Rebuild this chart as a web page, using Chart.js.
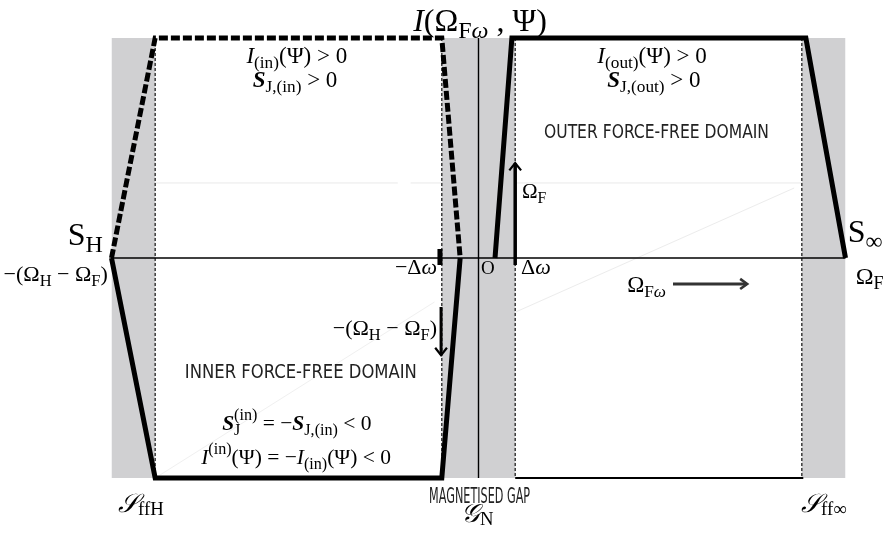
<!DOCTYPE html>
<html>
<head>
<meta charset="utf-8">
<script src="https://cdn.jsdelivr.net/npm/chart.js@4.4.1/dist/chart.umd.min.js"></script>
<style>
html,body{margin:0;padding:0;background:#fff;}
#wrap{width:894px;height:533px;position:relative;}
</style>
</head>
<body>
<div id="wrap"><canvas id="c" width="894" height="533"></canvas></div>
<script>
// ---- diagram data (Ω axis: x, current I: y) ----
const grayBand = [{x:-1,y:1},{x:1,y:1}];
const innerDomain = [{x:-0.881,y:1},{x:-0.1,y:1}];
const outerDomain = [{x:0.1,y:1},{x:0.881,y:1}];
const boundaryXs = [-0.881,-0.1,0.1,0.881];
const omegaAxis = [{x:-1,y:0},{x:1,y:0}];
const currentAxis = [{x:0,y:1},{x:0,y:-1}];
const innerCurrentPos = [{x:-1,y:0},{x:-0.881,y:1},{x:-0.1,y:1},{x:-0.05,y:0}];
const innerCurrentNeg = [{x:-1,y:0},{x:-0.881,y:-1},{x:-0.1,y:-1},{x:-0.05,y:0}];
const outerCurrent = [{x:0.045,y:0},{x:0.091,y:1},{x:0.892,y:1},{x:1,y:0}];
const outerBottom = [{x:0.1,y:-1},{x:0.885,y:-1}];
const minusDeltaTick = [{x:-0.105,y:0.041},{x:-0.105,y:-0.032}];
const omegaFArrow = [{x:0.1,y:-0.032},{x:0.1,y:0.43}];
const omegaFHead = [{x:0.084,y:0.398},{x:0.1,y:0.432},{x:0.116,y:0.398}];
const omegaHFArrow = [{x:-0.102,y:-0.223},{x:-0.102,y:-0.44}];
const omegaHFHead = [{x:-0.118,y:-0.408},{x:-0.102,y:-0.442},{x:-0.086,y:-0.408}];
const omegaFwArrow = [{x:0.53,y:-0.118},{x:0.73,y:-0.118}];
const omegaFwHead = [{x:0.713,y:-0.095},{x:0.732,y:-0.118},{x:0.713,y:-0.141}];
const faintH1 = [{x:-0.881,y:0.341},{x:-0.22,y:0.341}];
const faintH2 = [{x:-0.185,y:0.341},{x:-0.1,y:0.341}];
const faintH3 = [{x:0.1,y:0.341},{x:0.881,y:0.341}];
const faintD1 = [{x:0.102,y:-0.245},{x:0.86,y:0.318}];
const faintD2 = [{x:-0.876,y:-0.995},{x:-0.12,y:-0.2}];

const GRAY = '#d0d0d2';

function ds(data, o){
  return Object.assign({data:data, showLine:true, pointRadius:0, borderColor:'#000',
    borderWidth:1, fill:false, tension:0, borderJoinStyle:'miter'}, o);
}

const datasets = [
  ds(grayBand,{fill:{value:-1}, backgroundColor:GRAY, borderWidth:0, order:100}),
  ds(innerDomain,{fill:{value:-1}, backgroundColor:'#fff', borderWidth:0, order:95}),
  ds(outerDomain,{fill:{value:-1}, backgroundColor:'#fff', borderWidth:0, order:95}),
  ds(faintH1,{borderColor:'#e9e9e9', borderWidth:1, order:90}),
  ds(faintH2,{borderColor:'#e9e9e9', borderWidth:1, order:90}),
  ds(faintH3,{borderColor:'#e9e9e9', borderWidth:1, order:90}),
  ds(faintD1,{borderColor:'#ececec', borderWidth:1, order:90}),
  ds(faintD2,{borderColor:'#f0f0f0', borderWidth:1, order:90}),
];
boundaryXs.forEach(bx=>{
  datasets.push(ds([{x:bx,y:1},{x:bx,y:-1}],{borderColor:'#222', borderWidth:1.3, borderDash:[3,2], order:80}));
});
datasets.push(
  ds(omegaAxis,{borderWidth:1.6, order:70}),
  ds(currentAxis,{borderWidth:1.4, order:70}),
  ds(outerBottom,{borderWidth:1.8, order:65}),
  ds(innerCurrentNeg,{borderWidth:5, order:60}),
  ds(innerCurrentPos,{borderWidth:5, borderDash:[9,3], order:59}),
  ds(outerCurrent,{borderWidth:5, order:60}),
  ds(minusDeltaTick,{borderWidth:5, order:50}),
  ds(omegaFArrow,{borderWidth:3.5, borderCapStyle:'butt', order:50}),
  ds(omegaFHead,{borderWidth:2.2, order:50}),
  ds(omegaHFArrow,{borderWidth:3, order:50}),
  ds(omegaHFHead,{borderWidth:2.2, order:50}),
  ds(omegaFwArrow,{borderColor:'#333', borderWidth:3, order:50}),
  ds(omegaFwHead,{borderColor:'#333', borderWidth:2.6, order:50})
);

// ---- text labels ----
const SERIF = "'Liberation Serif','DejaVu Serif',serif";
const SANS = "'DejaVu Sans Condensed','DejaVu Sans',sans-serif";
const SCRIPT = "'DejaVu Sans','DejaVu Serif','Noto Sans',serif";
const n=t=>({t}), it=t=>({t,f:'italic'}), bi=t=>({t,f:'italic bold'});
const sub=(t,f)=>({t,f:f||'',s:0.75,dy:0.22});
const sup=(t,f)=>({t,f:f||'',s:0.75,dy:-0.45});

const labels = [
  {x:0.004,y:1.032,a:'center',size:32,runs:[it('I'),n('(Ω'),sub('F'),sub('ω','italic'),n(' , Ψ)')]},
  {x:-0.495,y:0.886,a:'center',size:23,runs:[it('I'),sub('(in)'),n('(Ψ) > 0')]},
  {x:-0.5,y:0.777,a:'center',size:23,runs:[bi('S'),sub('J,(in)'),n(' > 0')]},
  {x:0.473,y:0.886,a:'center',size:23,runs:[it('I'),sub('(out)'),n('(Ψ) > 0')]},
  {x:0.478,y:0.777,a:'center',size:23,runs:[bi('S'),sub('J,(out)'),n(' > 0')]},
  {x:-0.495,y:-0.782,a:'center',size:21.5,runs:[bi('S'),Object.assign(sub('J'),{noadv:true}),sup('(in)'),n(' = −'),bi('S'),sub('J,(in)'),n(' < 0')]},
  {x:-0.497,y:-0.936,a:'center',size:21.5,runs:[it('I'),sup('(in)'),n('(Ψ) = −'),it('I'),sub('(in)'),n('(Ψ) < 0')]},
  {x:-1.119,y:0.059,a:'left',size:32,runs:[n('S'),sub('H')]},
  {x:1.006,y:0.073,a:'left',size:32,runs:[n('S'),sub('∞')]},
  {x:-1.01,y:-0.105,a:'right',size:22,runs:[n('−(Ω'),sub('H'),n(' − Ω'),sub('F'),n(')')]},
  {x:-0.113,y:-0.073,a:'right',size:22,runs:[n('−Δ'),it('ω')]},
  {x:0.007,y:-0.073,a:'left',size:19,runs:[n('O')]},
  {x:0.116,y:-0.073,a:'left',size:22,runs:[n('Δ'),it('ω')]},
  {x:1.028,y:-0.118,a:'left',size:24,runs:[n('Ω'),sub('F')]},
  {x:0.1185,y:0.273,a:'left',size:21,runs:[n('Ω'),sub('F')]},
  {x:-0.113,y:-0.35,a:'right',size:22,runs:[n('−(Ω'),sub('H'),n(' − Ω'),sub('F'),n(')')]},
  {x:0.405,y:-0.155,a:'left',size:23,runs:[n('Ω'),sub('F'),sub('ω','italic')]},
];
const scriptLabels = [
  {x:-0.982,y:-1.155,size:26,main:'𝒮',sub:'ffH'},
  {x:0.879,y:-1.155,size:26,main:'𝒮',sub:'ff∞'},
  {x:-0.048,y:-1.2,size:26,main:'𝒢',sub:'N'},
];
const sansLabels = [
  {x:0.485,y:0.545,t:'OUTER FORCE-FREE DOMAIN',size:19,w:225},
  {x:-0.484,y:-0.545,t:'INNER FORCE-FREE DOMAIN',size:20,w:232},
  {x:0.003,y:-1.114,t:'MAGNETISED GAP',size:22,w:101},
];

function drawRuns(ctx, runs, px, py, size, align, family){
  let w=0;
  const widths = runs.map(r=>{
    ctx.font = (r.f||'')+' '+(size*(r.s||1))+'px '+family;
    return ctx.measureText(r.t).width;
  });
  runs.forEach((r,i)=>{ if(!r.noadv) w+=widths[i]; });
  let sx = align==='center'? px-w/2 : align==='right'? px-w : px;
  runs.forEach((r,i)=>{
    ctx.font = (r.f||'')+' '+(size*(r.s||1))+'px '+family;
    ctx.fillText(r.t, sx, py+(r.dy||0)*size);
    if(!r.noadv) sx+=widths[i];
  });
}

const textPlugin = {
  id:'texts',
  afterDraw(chart){
    const ctx=chart.ctx, X=chart.scales.x, Y=chart.scales.y;
    ctx.save();
    ctx.fillStyle='#000';
    ctx.textBaseline='alphabetic';
    ctx.textAlign='left';
    labels.forEach(l=>drawRuns(ctx,l.runs,X.getPixelForValue(l.x),Y.getPixelForValue(l.y),l.size,l.a,SERIF));
    scriptLabels.forEach(l=>{
      const px=X.getPixelForValue(l.x), py=Y.getPixelForValue(l.y);
      ctx.font='italic '+l.size+'px '+SCRIPT;
      ctx.fillText(l.main,px,py);
      const w=ctx.measureText(l.main).width;
      ctx.font=(l.size*0.72)+'px '+SERIF;
      ctx.fillText(l.sub,px+w,py+l.size*0.12);
    });
    sansLabels.forEach(l=>{
      const px=X.getPixelForValue(l.x), py=Y.getPixelForValue(l.y);
      ctx.font=l.size+'px '+SANS;
      const w=ctx.measureText(l.t).width;
      const k=l.w/w;
      ctx.save();
      ctx.translate(px-l.w/2,py);
      ctx.scale(k,1);
      ctx.fillStyle='#222';
      ctx.fillText(l.t,0,0);
      ctx.restore();
    });
    ctx.restore();
  }
};

new Chart(document.getElementById('c'),{
  type:'line',
  data:{datasets},
  options:{
    responsive:false,
    animation:false,
    events:[],
    layout:{padding:0},
    plugins:{legend:{display:false},tooltip:{enabled:false}},
    scales:{
      x:{type:'linear',min:-478.5/367,max:(894-478.5)/367,display:false},
      y:{type:'linear',min:-(533-258)/220,max:258/220,display:false}
    }
  },
  plugins:[textPlugin]
});
</script>
</body>
</html>
